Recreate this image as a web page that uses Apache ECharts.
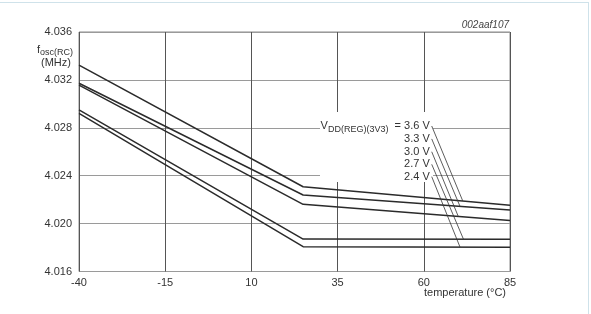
<!DOCTYPE html>
<html>
<head>
<meta charset="utf-8">
<style>
  html, body { margin: 0; padding: 0; background: #fff; }
  .frame { position: absolute; left: -2px; top: 2px; width: 591px; height: 320px; border: 1px solid #cfe2ea; box-sizing: border-box; }
  .chart { position: absolute; left: 0; top: 0; width: 591px; height: 314px; }
</style>
<script src="https://cdn.jsdelivr.net/npm/echarts@6/dist/echarts.min.js"></script>
</head>
<body>
<div class="frame"></div>
<div class="chart"></div>
<script>
// 温度 (°C)：-40 起，25 处拐点，到 85
var temps = [-40, 25, 85];
// 各电压下的振荡频率 (MHz)
var v36 = [4.03324, 4.02308, 4.02154];
var v33 = [4.03172, 4.02239, 4.02114];
var v30 = [4.03157, 4.02161, 4.02026];
var v27 = [4.02949, 4.01871, 4.01870];
var v24 = [4.02921, 4.01807, 4.01803];
var voltNames = ['3.6 V', '3.3 V', '3.0 V', '2.7 V', '2.4 V'];
// 标注文字位置 (温度, 频率) 与引线终点温度
var labelTemp = 62.3;
var labelVals = [4.02815, 4.02707, 4.02600, 4.02495, 4.02392];
var leaderEnd = [71.3, 70.5, 70.0, 71.5, 70.5];

(function () {
  var myChart = echarts.init(document.querySelector('.chart'));
  var allData = [v36, v33, v30, v27, v24];
  var font = 'Liberation Sans, Arial, sans-serif';

  // 曲线上某温度处的值 (在两个数据点之间取直线)
  function valueAt(arr, t) {
    for (var i = 0; i < temps.length - 1; i++) {
      if (t >= temps[i] && t <= temps[i + 1]) {
        var k = (t - temps[i]) / (temps[i + 1] - temps[i]);
        return arr[i] + (arr[i + 1] - arr[i]) * k;
      }
    }
    return arr[arr.length - 1];
  }

  var series = allData.map(function (arr, idx) {
    return {
      name: voltNames[idx],
      type: 'line',
      symbol: 'none',
      lineStyle: { color: '#2b2b2b', width: 1.5 },
      data: temps.map(function (t, i) { return [t, arr[i]]; }),
      // 引线
      markLine: {
        silent: true,
        symbol: 'none',
        label: { show: false },
        lineStyle: { color: '#333', width: 0.8, type: 'solid' },
        data: [[
          { coord: [labelTemp, labelVals[idx]] },
          { coord: [leaderEnd[idx], valueAt(arr, leaderEnd[idx])] }
        ]]
      },
      // 电压标注
      markPoint: {
        silent: true,
        symbol: 'circle',
        symbolSize: 0,
        label: {
          show: true,
          position: 'left',
          distance: 2,
          color: '#333',
          fontFamily: font,
          fontSize: 11,
          formatter: idx === 0 ? '{a|V}{b|DD(REG)(3V3)}{a|  = 3.6 V}' : voltNames[idx],
          rich: {
            a: { fontSize: 11, fontFamily: font, color: '#333' },
            b: { fontSize: 9, fontFamily: font, color: '#333', padding: [7, 0, 0, 0] }
          }
        },
        data: [{ coord: [labelTemp, labelVals[idx]] }]
      }
    };
  });

  var option = {
    animation: false,
    grid: {
      left: 79,
      right: 81,
      top: 32,
      bottom: 42.5,
      outerBoundsMode: 'none',
      containLabel: false,
      show: true,
      borderColor: '#8a8a8a',
      borderWidth: 1
    },
    xAxis: {
      type: 'value',
      min: -40,
      max: 85,
      interval: 25,
      axisLine: { show: false },
      axisTick: { show: false },
      axisLabel: { color: '#333', fontSize: 11, fontFamily: font, margin: 6 },
      splitLine: { lineStyle: { color: '#555', width: 1 } }
    },
    yAxis: {
      type: 'value',
      min: 4.016,
      max: 4.036,
      interval: 0.004,
      axisLine: { show: false },
      axisTick: { show: false },
      axisLabel: {
        color: '#333', fontSize: 11, fontFamily: font, margin: 7,
        formatter: function (v) { return v.toFixed(3); }
      },
      splitLine: { lineStyle: { color: '#9a9a9a', width: 1 } }
    },
    graphic: [
      // 标注区域的白底，遮住网格线
      {
        type: 'rect', z: 1, silent: true,
        shape: { x: 320, y: 112, width: 113, height: 70 },
        style: { fill: '#fff' }
      },
      {
        type: 'text', left: 37, top: 44, z: 5,
        style: {
          text: '{a|f}{b|osc(RC)}',
          rich: {
            a: { fontSize: 11, fontFamily: font, fill: '#333' },
            b: { fontSize: 9, fontFamily: font, fill: '#333', padding: [6, 0, 0, 0] }
          }
        }
      },
      {
        type: 'text', left: 41, top: 57, z: 5,
        style: { text: '(MHz)', fontSize: 11, fontFamily: font, fill: '#333' }
      },
      {
        type: 'text', right: 85, top: 287, z: 5,
        style: { text: 'temperature (°C)', fontSize: 11, fontFamily: font, fill: '#333' }
      },
      {
        type: 'text', right: 82, top: 20, z: 5,
        style: { text: '002aaf107', fontSize: 10, fontStyle: 'italic', fontFamily: font, fill: '#444' }
      }
    ],
    series: series
  };

  myChart.setOption(option);
  window.addEventListener('resize', function () {
    myChart.resize();
  });
})();
</script>
</body>
</html>
